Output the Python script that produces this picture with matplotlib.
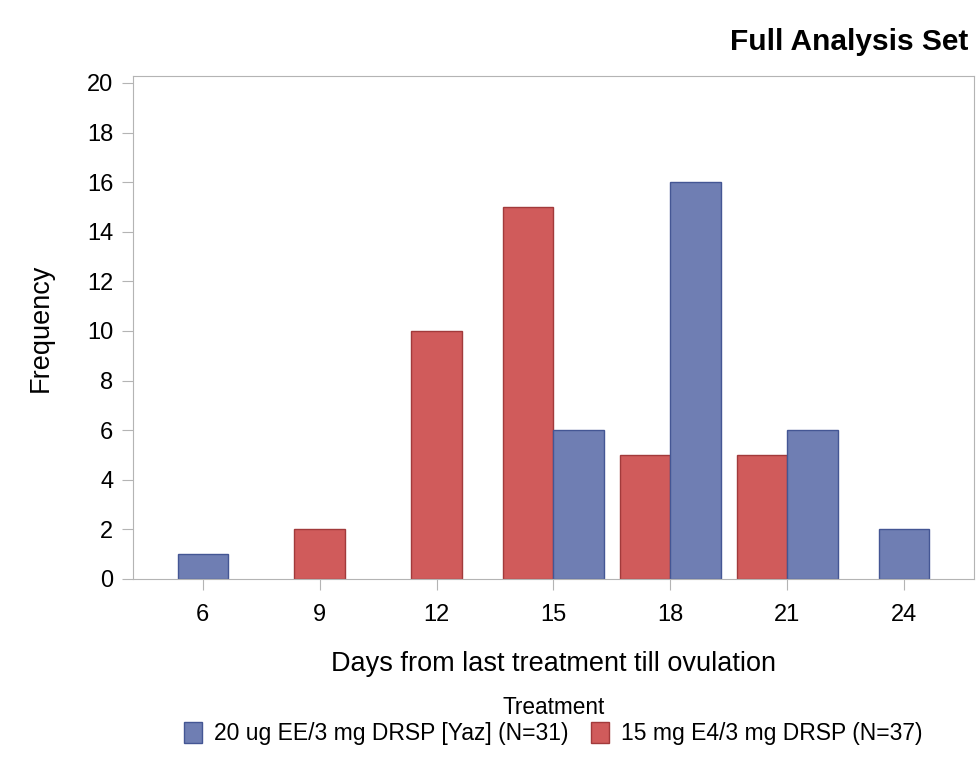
import matplotlib.pyplot as plt
from matplotlib.patches import Patch

plt.rcParams['font.family'] = ['Liberation Sans', 'DejaVu Sans']

days = [6, 9, 12, 15, 18, 21, 24]
yaz = [1, 0, 0, 6, 16, 6, 2]
e4 = [0, 2, 10, 15, 5, 5, 0]
yaz_label = "20 ug EE/3 mg DRSP [Yaz] (N=31)"
e4_label = "15 mg E4/3 mg DRSP (N=37)"

blue, blue_edge = "#6F7EB3", "#445694"
red, red_edge = "#D05B5B", "#A23A3B"
grey = "#B4B4B4"
width = 1.3

fig = plt.figure(figsize=(9.79, 7.61), dpi=100)
ax = fig.add_axes([0.1356, 0.2392, 0.8594, 0.6609])

# clustered bars; a lone group sits centred on its tick
for x, b, r in zip(days, yaz, e4):
    groups = [(r, red, red_edge), (b, blue, blue_edge)]
    groups = [g for g in groups if g[0] > 0]
    n = len(groups)
    for i, (v, fc, ec) in enumerate(groups):
        off = (i - (n - 1) / 2) * width
        ax.bar(x + off, v, width=width, color=fc, edgecolor=ec, linewidth=1)

ax.set_xlim(4.2, 25.8)
ax.set_ylim(0, 20.28)
ax.set_xticks(days)
ax.set_yticks(range(0, 21, 2))
for s in ax.spines.values():
    s.set_color(grey)
ax.tick_params(axis='both', colors=grey, labelcolor='black', labelsize=17,
               direction='out', length=8)
ax.tick_params(axis='x', pad=10)
ax.tick_params(axis='y', pad=6)

ax.set_xlabel("Days from last treatment till ovulation", fontsize=19.5, labelpad=18)
ax.set_ylabel("Frequency", fontsize=19.5, labelpad=24)

fig.text(0.989, 0.945, "Full Analysis Set", ha='right', va='center',
         fontsize=21.5, fontweight='bold')

handles = [Patch(facecolor=blue, edgecolor=blue_edge, label=yaz_label),
           Patch(facecolor=red, edgecolor=red_edge, label=e4_label)]
leg = fig.legend(handles=handles, title="Treatment", ncol=2, loc='upper center',
                 bbox_to_anchor=(0.565, 0.107), frameon=False, fontsize=16.5,
                 title_fontsize=16.3, handlelength=0.8, handleheight=1.0,
                 handletextpad=0.5, columnspacing=1.0, borderpad=0.2,
                 labelspacing=0.15)

fig.savefig("out.png", dpi=100)
